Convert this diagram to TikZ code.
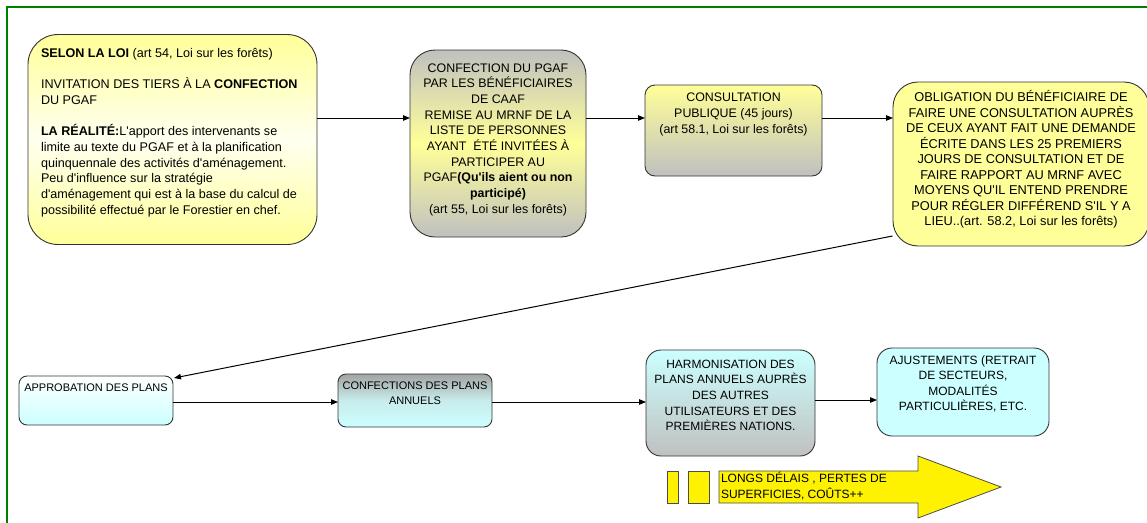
\documentclass[tikz,border=0pt]{standalone}
\usepackage{fontspec}
\setmainfont{Liberation Sans}
\usetikzlibrary{arrows.meta}
\definecolor{pale}{HTML}{FFFF99}
\definecolor{lgray}{HTML}{C0C0C0}
\definecolor{aqua}{HTML}{CCFFFF}
\definecolor{framegreen}{HTML}{008000}
\definecolor{edge}{HTML}{333333}
% strut fixing the height of the first line of every label
\newcommand{\fstrut}{\rule{0pt}{11.5pt}}
% straight apostrophe
\newcommand{\ap}{\textquotesingle}
\begin{document}
\begin{tikzpicture}[x=1pt,y=-1pt,
  box/.style={draw=edge, line width=0.9pt, rectangle, inner sep=0pt, outer sep=0pt},
  lbl/.style={inner sep=0pt, outer sep=0pt, anchor=north, align=center,
    font=\fontsize{12}{15.6}\selectfont},
  lblsmall/.style={lbl, font=\fontsize{11}{15.6}\selectfont},
  flow/.style={-{Triangle[length=7pt,width=5.5pt]}, line width=1pt, black}]
\useasboundingbox (0,0) rectangle (1147,522);

% page frame
\draw[framegreen, line width=2pt] (7,530) -- (7,7) -- (1160,7);

% ---- upper row ----
\node[box, minimum width=289pt, minimum height=210pt, rounded corners=30pt,
  top color=pale, bottom color=pale, middle color=pale!15!white] (loi) at (172.5,139.5) {};
\node[lbl, anchor=north west, align=left, font=\fontsize{12.6}{15.7}\selectfont]
  (loitxt) at (41,45.8)
  {\fstrut\textbf{SELON LA LOI} (art 54, Loi sur les forêts)\\
   \mbox{}\\
   INVITATION DES TIERS À LA \textbf{CONFECTION}\\
   DU PGAF\\
   \mbox{}\\
   \textbf{LA RÉALITÉ:}L\ap apport des intervenants se\\
   limite au texte du PGAF et à la planification\\
   quinquennale des activités d\ap aménagement.\\
   Peu d\ap influence sur la stratégie\\
   d\ap aménagement qui est à la base du calcul de\\
   possibilité effectué par le Forestier en chef.};

\node[box, minimum width=176pt, minimum height=187pt, rounded corners=25pt,
  top color=lgray, bottom color=lgray, middle color=pale] (pgaf) at (498,143.5) {};
\node[lbl, font=\fontsize{12.4}{15.7}\selectfont] (pgaftxt) at (498,60.5)
  {\fstrut CONFECTION DU PGAF\\
   PAR LES BÉNÉFICIAIRES\\
   DE CAAF\\
   REMISE AU MRNF DE LA\\
   LISTE DE PERSONNES\\
   AYANT\ \ ÉTÉ INVITÉES À\\
   PARTICIPER AU\\
   PGAF\textbf{(Qu\ap ils aient ou non}\\
   \textbf{participé)}\\
   (art 55, Loi sur les forêts)};

\node[box, minimum width=177pt, minimum height=91pt, rounded corners=10pt,
  top color=pale, bottom color=lgray] (cons) at (733.5,130.5) {};
\node[lbl, font=\fontsize{12.4}{15.6}\selectfont] (constxt) at (733.5,90.3)
  {\fstrut CONSULTATION\\
   PUBLIQUE (45 jours)\\
   (art 58.1, Loi sur les forêts)};

\node[box, minimum width=256pt, minimum height=164pt, rounded corners=25pt,
  fill=pale] (oblig) at (1021,164) {};
\node[lbl, font=\fontsize{12.8}{15.5}\selectfont] (obligtxt) at (1021,90.2)
  {\fstrut OBLIGATION DU BÉNÉFICIAIRE DE\\
   FAIRE UNE CONSULTATION AUPRÈS\\
   DE CEUX AYANT FAIT UNE DEMANDE\\
   ÉCRITE DANS LES 25 PREMIERS\\
   JOURS DE CONSULTATION ET DE\\
   FAIRE RAPPORT AU MRNF AVEC\\
   MOYENS QU\ap IL ENTEND PRENDRE\\
   POUR RÉGLER DIFFÉREND S\ap IL Y A\\
   LIEU..(art. 58.2, Loi sur les forêts)};

% ---- lower row ----
\node[box, minimum width=154pt, minimum height=49pt, rounded corners=8pt,
  top color=white, bottom color=aqua] (appro) at (96,400.5) {};
\node[lblsmall] (approtxt) at (96,379.5) {\fstrut APPROBATION DES PLANS};

\node[box, minimum width=154pt, minimum height=53pt, rounded corners=8pt,
  top color=lgray!85!black, bottom color=aqua, middle color=aqua!70!lgray] (annuel) at (415,400.5) {};
\node[lblsmall] (annueltxt) at (415,377.8)
  {\fstrut CONFECTIONS DES PLANS\\ ANNUELS};

\node[box, minimum width=169pt, minimum height=106pt, rounded corners=15pt,
  top color=aqua, bottom color=lgray] (harmo) at (730.5,403) {};
\node[lbl] (harmotxt) at (730.5,356.8)
  {\fstrut HARMONISATION DES\\
   PLANS ANNUELS AUPRÈS\\
   DES AUTRES\\
   UTILISATEURS ET DES\\
   PREMIÈRES NATIONS.};

\node[box, minimum width=172pt, minimum height=88pt, rounded corners=15pt,
  fill=aqua] (ajust) at (963,392) {};
\node[lbl] (ajusttxt) at (963,352.5)
  {\fstrut AJUSTEMENTS (RETRAIT\\
   DE SECTEURS,\\
   MODALITÉS\\
   PARTICULIÈRES, ETC.};

% ---- connectors ----
\draw[flow] (loi.east |- 0,118) -- (pgaf.west |- 0,118);
\draw[flow] (pgaf.east |- 0,118) -- (cons.west |- 0,118);
\draw[flow] (cons.east |- 0,118) -- (oblig.west |- 0,118);
\coordinate (obligfoot) at (892.5,236);
\draw[flow] (obligfoot) -- ([xshift=1pt,yshift=-2pt]appro.north east);
\draw[flow] (appro.east |- 0,402) -- (annuel.west |- 0,402);
\draw[flow] (annuel.east |- 0,402) -- (harmo.west |- 0,402);
\draw[flow] (harmo.east |- 0,400) -- (ajust.west |- 0,400);

% ---- delay arrow ----
\begin{scope}[fill=yellow, draw=black!70, line width=0.8pt]
  \filldraw (667,471) rectangle (678,503);
  \filldraw (688,471) rectangle (709,503);
  \filldraw (719,471) -- (918,471) -- (918,456) -- (1001,487)
            -- (918,518) -- (918,503) -- (719,503) -- cycle;
\end{scope}
\node[lbl, anchor=north west, align=left, font=\fontsize{12}{16}\selectfont]
  (delai) at (721,470.8)
  {\fstrut LONGS DÉLAIS , PERTES DE\\ SUPERFICIES, COÛTS++};
\end{tikzpicture}
\end{document}
